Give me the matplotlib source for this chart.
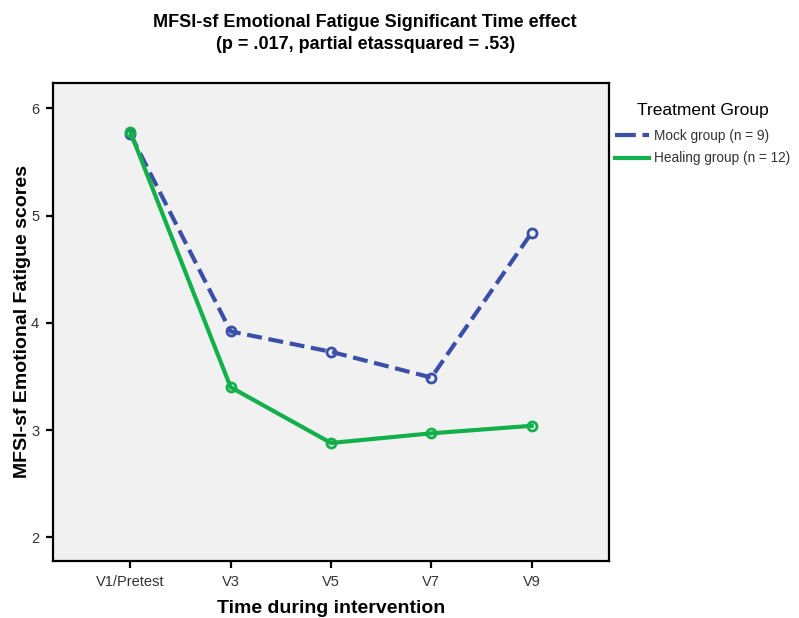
import matplotlib
matplotlib.use("Agg")
import matplotlib.pyplot as plt

plt.rcParams['font.family'] = ['Liberation Sans', 'DejaVu Sans']

# time points and estimated marginal means per group
visits = ['V1/Pretest', 'V3', 'V5', 'V7', 'V9']
mock_scores = [5.76, 3.92, 3.73, 3.49, 4.84]
healing_scores = [5.78, 3.40, 2.88, 2.97, 3.04]
mock_label = 'Mock group (n = 9)'
healing_label = 'Healing group (n = 12)'

fig = plt.figure(figsize=(7.99, 6.18), dpi=100)
ax = fig.add_axes([53 / 799, 1 - 561 / 618, (609 - 53) / 799, (561 - 83) / 618])
ax.set_facecolor('#f1f1f1')

x = list(range(len(visits)))
ax.plot(x, mock_scores, color='#3b4fa8', lw=3, ls=(0, (3.6, 1.6)),
        marker='o', ms=6.5, mfc='none', mew=2, label=mock_label)
ax.plot(x, healing_scores, color='#12b04a', lw=3, ls='-',
        marker='o', ms=6.5, mfc='none', mew=2, label=healing_label)

ax.set_xlim(-0.77, 4.77)
ax.set_ylim(1.78, 6.235)
ax.set_xticks(x)
ax.set_xticklabels(visits)
ax.set_yticks([2, 3, 4, 5, 6])

for side in ax.spines.values():
    side.set_linewidth(1.6)
ax.tick_params(axis='both', direction='out', length=5, width=1.6,
               labelsize=10.5, labelcolor='#333333', pad=5)

ax.set_xlabel('Time during intervention', fontsize=14, fontweight='bold', labelpad=8)
ax.set_ylabel('MFSI-sf Emotional Fatigue scores', fontsize=14, fontweight='bold')
ax.yaxis.set_label_coords(-0.04, 0.5)

fig.text(0.457, 0.946, 'MFSI-sf Emotional Fatigue Significant Time effect\n'
         '(p = .017, partial etassquared = .53)',
         ha='center', va='center', fontsize=13, fontweight='bold', linespacing=1.4)

leg = ax.legend(loc='upper left', bbox_to_anchor=(615 / 799, 1 - 103 / 618),
                bbox_transform=fig.transFigure, frameon=False,
                title='Treatment Group', fontsize=9.8, title_fontsize=12.5,
                handlelength=2.5, handletextpad=0.4, labelspacing=0.6,
                borderaxespad=0, borderpad=0)
leg._legend_box.sep = 8
for t in leg.get_texts():
    t.set_color('#333333')
for h in leg.get_lines():
    h.set_marker('')
leg.get_lines()[0].set_linestyle((0, (5, 1.6)))

fig.savefig('out.png', dpi=100)
